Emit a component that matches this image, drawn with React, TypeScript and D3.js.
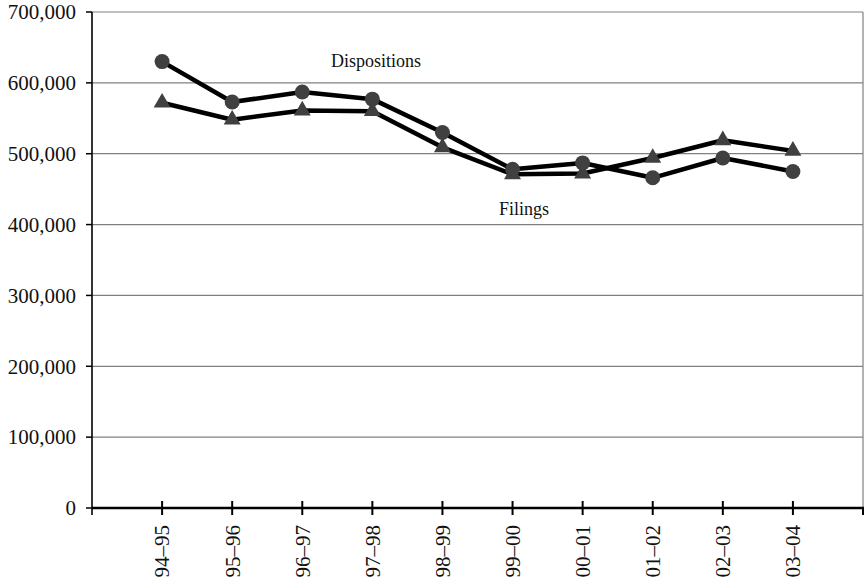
import React from "react";
import * as d3 from "d3";

const categories = ["94–95", "95–96", "96–97", "97–98", "98–99", "99–00", "00–01", "01–02", "02–03", "03–04"];
const dispositions = [630000, 573000, 587000, 577000, 530000, 478000, 487000, 466000, 494000, 475000];
const filings = [572000, 548000, 561000, 560000, 509000, 471000, 472000, 494000, 519000, 504000];
const yTicks = [0, 100000, 200000, 300000, 400000, 500000, 600000, 700000];

const W = 865, H = 583;
const left = 92, right = 863, top = 12, bottom = 508;
const FONT = "Liberation Serif, Times New Roman, serif";

export default function App() {
  const x = d3.scaleLinear().domain([0, categories.length + 1]).range([left, right]);
  const y = d3.scaleLinear().domain([0, 700000]).range([bottom, top]);
  const fmt = d3.format(",");
  const line = d3.line<number>().x((_, i) => x(i + 1)).y((d) => y(d));
  const tri = d3.symbol().type(d3.symbolTriangle).size(125)();

  return (
    <svg width={W} height={H} style={{ position: "absolute", left: 0, top: 0, background: "#fff" }}>
      {yTicks.map((t) => (
        <g key={t}>
          {t > 0 && <line x1={left} x2={right} y1={y(t)} y2={y(t)} stroke="#808080" strokeWidth={1.2} />}
          <line x1={left - 6} x2={left} y1={y(t)} y2={y(t)} stroke="#000" strokeWidth={1.5} />
          <text x={left - 16} y={y(t)} dy="0.35em" textAnchor="end" style={{ fontFamily: FONT }} fontSize={21} fill="#111">
            {fmt(t)}
          </text>
        </g>
      ))}
      <line x1={right} x2={right} y1={top} y2={bottom} stroke="#808080" strokeWidth={1.2} />
      <line x1={left} x2={left} y1={top} y2={bottom + 7} stroke="#000" strokeWidth={1.6} />
      <line x1={left} x2={right + 1} y1={bottom} y2={bottom} stroke="#000" strokeWidth={2.5} />
      {d3.range(1, categories.length + 2).map((i) => (
        <line key={i} x1={x(i)} x2={x(i)} y1={i === categories.length + 1 ? bottom : bottom - 7} y2={bottom + 7} stroke="#000" strokeWidth={2} />
      ))}
      {categories.map((c, i) => (
        <text
          key={c}
          transform={`translate(${x(i + 1)},${bottom + 17}) rotate(-90)`}
          textAnchor="end"
          dy="0.35em"
          style={{ fontFamily: FONT }}
          fontSize={21}
          fill="#111"
        >
          {c}
        </text>
      ))}
      <path d={line(dispositions) ?? ""} fill="none" stroke="#000" strokeWidth={4.5} strokeLinejoin="round" />
      <path d={line(filings) ?? ""} fill="none" stroke="#000" strokeWidth={4.5} strokeLinejoin="round" />
      {dispositions.map((v, i) => (
        <circle key={i} cx={x(i + 1)} cy={y(v)} r={7.5} fill="#404040" />
      ))}
      {filings.map((v, i) => (
        <path key={i} d={tri ?? ""} transform={`translate(${x(i + 1)},${y(v)})`} fill="#404040" />
      ))}
      <text x={331} y={67} style={{ fontFamily: FONT }} fontSize={18} fill="#111">Dispositions</text>
      <text x={499} y={215} style={{ fontFamily: FONT }} fontSize={18} fill="#111">Filings</text>
    </svg>
  );
}
